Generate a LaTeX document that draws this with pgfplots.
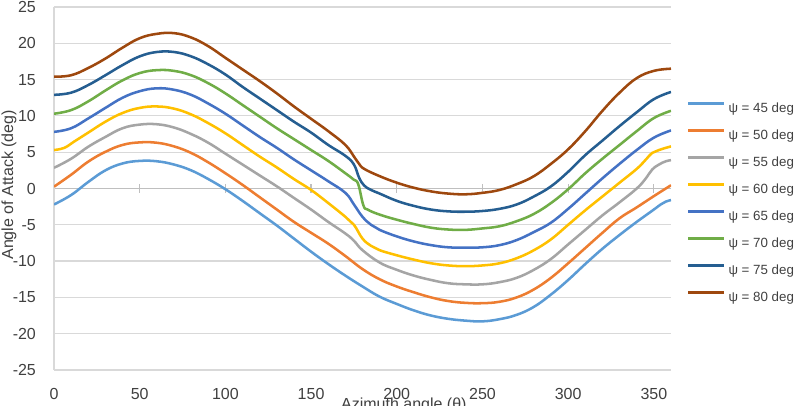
\documentclass[border=0pt]{standalone}
\usepackage{pgfplots}
\pgfplotsset{compat=1.18}
\usepackage{fontspec}
\setmainfont{Liberation Sans}

\definecolor{c45}{HTML}{5B9BD5}
\definecolor{c50}{HTML}{ED7D31}
\definecolor{c55}{HTML}{A5A5A5}
\definecolor{c60}{HTML}{FFC000}
\definecolor{c65}{HTML}{4472C4}
\definecolor{c70}{HTML}{70AD47}
\definecolor{c75}{HTML}{255E91}
\definecolor{c80}{HTML}{9E480E}
\definecolor{gridc}{HTML}{D9D9D9}
\definecolor{axisc}{HTML}{BFBFBF}
\definecolor{txt}{HTML}{404040}

\newcommand{\tickfont}{\fontsize{12}{14}\selectfont}

\begin{document}
\begin{tikzpicture}
% background: horizontal grid, zero line with its ticks, y axis and y labels
\begin{axis}[
  scale only axis, width=462.75pt, height=272.25pt,
  xmin=0, xmax=360, ymin=-25, ymax=25,
  axis x line=middle, axis y line=left,
  axis line style={-},
  x axis line style={draw=axisc, line width=0.9pt},
  y axis line style={draw=gridc, line width=0.9pt},
  xtick={50,100,...,350}, xticklabels={},
  x tick style={draw=axisc, line width=0.9pt},
  major tick length=6.75pt, tick align=center,
  ytick={-25,-20,...,25},
  yticklabels={-25,-20,-15,-10,-5,0,5,10,15,20,25},
  y tick style={draw=none},
  yticklabel style={anchor=east, inner sep=0pt, xshift=-10pt, font=\tickfont, text=txt},
  ymajorgrids, major grid style={draw=gridc, line width=0.9pt},
  ylabel={Angle of Attack (deg)},
  every axis y label/.style={at={(axis description cs:-0.0728,0.51)}, rotate=90, anchor=center, font=\tickfont, text=txt},
]
\coordinate (bbSW) at (rel axis cs:0,0);
\coordinate (bbNE) at (rel axis cs:1,1);
\end{axis}

% curves, x labels and legend
\begin{axis}[
  scale only axis, width=462.75pt, height=272.25pt,
  xmin=0, xmax=360, ymin=-25, ymax=25,
  axis x line=bottom, axis y line=none,
  axis line style={-},
  x axis line style={draw=none},
  xtick={0,50,...,350}, xticklabels={0,50,100,150,200,250,300,350},
  x tick style={draw=none},
  xticklabel style={anchor=north, inner sep=0pt, yshift=-11.25pt, font=\tickfont, text=txt},
  xlabel={Azimuth angle (θ)},
  every axis x label/.style={at={(axis description cs:0.567,0)}, anchor=north, yshift=-20.8pt, inner sep=0pt, font=\tickfont, text=txt},
  every axis plot/.append style={line width=1.9pt, smooth, tension=0.7, no marks},
  legend style={at={(axis description cs:1.0259,0.4600)}, anchor=west, draw=none, fill=none,
    inner sep=0pt, outer sep=0pt, row sep=10.55pt, column sep=2.25pt,
    font=\fontsize{10}{12}\selectfont, text=txt,
    nodes={inner sep=0pt, text height=7.5pt, text depth=2.2pt}},
  legend cell align=left,
  legend image code/.code={\draw[#1] (0pt,3.6pt) -- (27pt,3.6pt);},
]
\addplot[c45] table {
x y
0 -2.2
10 -0.9
20 0.9
30 2.5
40 3.45
50 3.8
60 3.75
70 3.3
80 2.5
90 1.3
100 -0.1
110 -1.7
120 -3.4
130 -5.1
140 -6.9
150 -8.7
160 -10.4
170 -12.0
180 -13.5
190 -14.9
200 -15.9
210 -16.8
220 -17.5
230 -17.95
240 -18.2
250 -18.3
260 -18.0
270 -17.4
280 -16.3
290 -14.6
300 -12.6
310 -10.4
320 -8.3
330 -6.4
340 -4.6
350 -2.9
354 -2.2
357 -1.8
360 -1.6
};
\addlegendentry{ψ = 45 deg}
\addplot[c50] table {
x y
0 0.25
10 1.9
20 3.7
30 5.05
40 6.0
50 6.35
60 6.3
70 5.8
80 4.9
90 3.6
100 2.1
110 0.5
120 -1.2
130 -2.9
140 -4.6
150 -6.1
160 -7.6
170 -9.3
180 -11.1
190 -12.5
200 -13.5
210 -14.3
220 -15.0
230 -15.5
240 -15.75
250 -15.8
260 -15.6
270 -15.0
280 -13.9
290 -12.3
300 -10.3
310 -8.2
320 -6.1
330 -4.1
340 -2.6
350 -1.05
360 0.45
};
\addlegendentry{ψ = 50 deg}
\addplot[c55] table {
x y
0 2.85
10 4.1
20 5.75
30 7.1
40 8.3
50 8.8
60 8.85
70 8.4
80 7.5
90 6.3
100 4.8
110 3.3
120 1.8
130 0.3
140 -1.3
150 -2.9
160 -4.6
170 -6.2
175 -7.2
180 -8.5
190 -10.2
200 -11.2
210 -12.0
220 -12.6
230 -13.05
240 -13.2
250 -13.2
260 -12.9
270 -12.3
280 -11.2
290 -9.7
300 -7.7
310 -5.7
320 -3.7
330 -1.9
340 0.0
345 1.3
349 2.6
353 3.3
357 3.75
360 3.9
};
\addlegendentry{ψ = 55 deg}
\addplot[c60] table {
x y
0 5.3
6 5.6
12 6.5
20 7.7
30 9.2
40 10.4
50 11.1
60 11.3
70 11.0
80 10.2
90 9.0
100 7.6
110 6.0
120 4.4
130 2.9
140 1.3
150 -0.2
160 -2.0
170 -3.9
175 -5.0
180 -6.9
185 -7.9
190 -8.5
200 -9.2
210 -9.8
220 -10.3
230 -10.6
240 -10.7
250 -10.6
260 -10.3
270 -9.6
280 -8.5
290 -7.0
300 -5.0
310 -3.0
320 -1.1
330 0.8
340 2.7
345 3.9
349 4.9
353 5.3
357 5.6
360 5.8
};
\addlegendentry{ψ = 60 deg}
\addplot[c65] table {
x y
0 7.8
10 8.3
20 9.65
30 11.1
40 12.5
50 13.4
60 13.8
70 13.6
80 12.9
90 11.7
100 10.3
110 8.7
120 7.1
130 5.6
140 4.0
150 2.5
160 1.0
170 -0.6
175 -2.2
180 -3.9
185 -5.0
190 -5.7
200 -6.6
210 -7.3
220 -7.8
230 -8.1
240 -8.15
250 -8.1
260 -7.8
270 -7.1
280 -6.0
290 -4.7
300 -2.8
310 -0.7
320 1.4
330 3.4
340 5.3
350 7.0
360 8.0
};
\addlegendentry{ψ = 65 deg}
\addplot[c70] table {
x y
0 10.3
10 10.8
20 12.0
30 13.5
40 14.9
50 15.9
60 16.3
70 16.2
80 15.6
90 14.5
100 13.1
110 11.5
120 9.9
130 8.3
140 6.8
150 5.3
160 3.8
170 2.1
175 1.2
177.5 0.6
180.5 -2.3
183 -2.9
190 -3.6
200 -4.3
210 -4.9
220 -5.4
230 -5.65
240 -5.7
250 -5.5
260 -5.2
270 -4.5
280 -3.5
290 -2.0
300 -0.1
310 2.1
320 4.1
330 6.0
340 7.9
350 9.7
360 10.7
};
\addlegendentry{ψ = 70 deg}
\addplot[c75] table {
x y
0 12.9
10 13.2
20 14.25
30 15.6
40 17.0
50 18.2
60 18.8
70 18.8
80 18.2
90 17.1
100 15.7
110 14.0
120 12.4
130 10.8
140 9.2
150 7.7
160 6.0
170 4.5
175 3.3
178 1.5
181 0.4
185 -0.2
190 -0.7
200 -1.7
210 -2.4
220 -2.9
230 -3.15
240 -3.2
250 -3.1
260 -2.8
270 -2.2
280 -1.1
290 0.3
300 2.3
310 4.6
320 6.6
330 8.6
340 10.5
350 12.3
360 13.3
};
\addlegendentry{ψ = 75 deg}
\addplot[c80] table {
x y
0 15.4
10 15.6
20 16.6
30 17.9
40 19.4
50 20.7
60 21.3
70 21.4
80 20.8
90 19.6
100 18.0
110 16.4
120 14.8
130 13.1
140 11.3
150 9.6
160 7.9
170 6.0
175 4.4
178 3.4
181 2.7
190 1.7
200 0.8
210 0.1
220 -0.4
230 -0.7
240 -0.8
250 -0.6
260 -0.2
270 0.6
280 1.7
290 3.4
300 5.4
310 7.9
320 10.7
330 13.2
340 15.2
350 16.2
360 16.5
};
\addlegendentry{ψ = 80 deg}
\end{axis}

% page area
\pgfresetboundingbox
\path[use as bounding box] ([xshift=-40.5pt,yshift=-27pt]bbSW) rectangle ([xshift=94.5pt,yshift=5.25pt]bbNE);
\end{tikzpicture}
\end{document}
